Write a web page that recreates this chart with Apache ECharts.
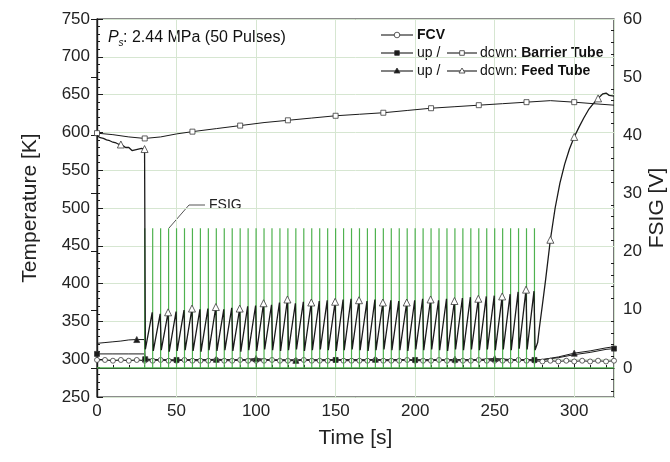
<!DOCTYPE html>
<html>
<head>
<meta charset="utf-8">
<title>FSIG pulses</title>
<script src="https://cdn.jsdelivr.net/npm/echarts@6/dist/echarts.min.js"></script>
<style>
html,body{margin:0;padding:0;background:#fff;}
#container{width:670px;height:462px;}
</style>
</head>
<body>
<div id="container"></div>
<script>
var FONT = '"Liberation Sans", Arial, sans-serif';
var INK = '#1b1b1b';

// FSIG pulses, right axis [V]
var pulseTimes = [30,35,40,45,50,55,60,65,70,75,80,85,90,95,100,105,110,115,120,125,
                  130,135,140,145,150,155,160,165,170,175,180,185,190,195,200,205,210,215,220,225,
                  230,235,240,245,250,255,260,265,270,275];
var pulseTop = 24;

// FCV (open circles)
var fcvTime = [0,5,10,15,20,25,30,35,40,45,50,55,60,65,70,75,80,85,90,95,100,105,110,115,120,125,130,135,140,145,
               150,155,160,165,170,175,180,185,190,195,200,205,210,215,220,225,230,235,240,245,250,255,260,265,270,275,
               280,285,290,295,300,305,310,315,320,325];
var fcvTemp = [299,299,298,299,298,299,298,298,299,298, 298,299,298,298,298,299,298,298,299,298,
               298,298,299,298,298,298,299,298,298,298, 299,298,298,298,298,299,298,298,298,299,
               298,298,298,299,298,298,298,298,299,298, 298,298,298,299,298,298,297,298,297,298,
               297,298,297,298,297,298];

// Barrier tube up (filled squares)
var barrierUpTime = [0,10,20,29.8,30.3,40,50,60,70,80,90,100,110,120,130,140,150,160,170,180,190,200,210,220,230,240,250,260,270,275,280,290,300,310,320,325];
var barrierUpTemp = [307,307,307,307,300,299.5,299,299.5,299,299.5,299,299.5,299,299,299.5,299,299,299.5,299,299,299.5,299,299.5,299,299.5,299,299.5,299,299.5,299,299.5,302,306,309,313,314];
var barrierUpMarks = [0,30.3,50,150,200,275,325];

// Feed tube up (filled triangles)
var feedUpTime = [0,5,10,15,20,25,29.8,30.3,40,50,60,70,75,80,90,100,110,120,125,130,140,150,160,170,175,180,190,200,210,220,225,230,240,250,260,270,280,290,300,310,320,325];
var feedUpTemp = [321,322,323,324,325.5,326,326,300,299,298.5,299,299.5,300,299.5,299,301,299,299,298.5,299,299,299.5,299,299,300,299,299.5,299,299,299,300,299,299.5,301,299.5,299,299.5,303,308,311,315,316.5];
var feedUpMarks = [25,75,100,125,175,225,250,300];

// Barrier tube down (open squares)
var barrierDownTime = [0,10,20,30,40,50,60,75,90,105,120,135,150,165,180,195,210,225,240,255,270,285,300,312,325];
var barrierDownTemp = [599,597,594,592,594,598,601,605,609,613,616,619,622,624,626,629,632,634,636,638,640,642,640,638,636];
var barrierDownMarks = [0,30,60,90,120,150,180,210,240,270,300];

// Feed tube down (open triangles): before pulses, sawtooth per pulse, recovery
var feedDownPreTime = [0,1,2,3,4,5,6,7,8,9,10,11,12,13,14,15,16,17,18,19,20,21,22,23,24,25,26,27,28,29,29.9];
var feedDownPreTemp = [596,594,593,592,592,591,590,590,589,588,587,586,586,585,584,584,583,581,580,582,580,578,576,578,577,575,578,577,579,578,578];
var feedDownPreMarks = [15,29.9];
var sawTrough = [313,311,312,310,311,312,311,310,312,311, 312,311,310,312,311,313,312,311,312,313,
                 311,312,313,312,311,312,313,312,311,312, 313,312,312,311,313,312,313,312,311,313,
                 312,313,312,313,312,313,312,314,313,312];
var sawPeak = [362,360,362,363,365,367,366,367,369,366,368,367,370,371,374,372,375,379,374,376,
               375,377,378,376,379,380,378,377,379,375,378,377,375,378,380,379,378,380,377,381,
               382,380,383,384,383,386,389,392,390];
var sawPeakMarks = [45,60,75,90,105,120,135,150,165,180,195,210,225,240,255,270];
var feedDownPostTime = [277,278,280,282,285,288,291,294,297,300,303,306,309,312,315,318,320,322,325];
var feedDownPostTemp = [322,340,372,405,458,500,533,558,578,594,607,619,630,638,645,651,652,649,648];
var feedDownPostMarks = [285,300,315];

function items(ts, vs, marks) {
    return ts.map(function (t, i) {
        var it = {value: [t, vs[i]]};
        if (marks.indexOf(t) < 0) it.symbol = 'none';
        return it;
    });
}

// FSIG signal: 0 V baseline with a spike at every pulse
var fsigData = [[0, 0]];
pulseTimes.forEach(function (t) {
    fsigData.push([t, 0], [t, pulseTop], [t, 0]);
});
fsigData.push([325, 0]);

// feed tube down: drop at each pulse, then rise until the next pulse
var feedDownData = items(feedDownPreTime, feedDownPreTemp, feedDownPreMarks);
pulseTimes.forEach(function (t, k) {
    feedDownData.push({value: [t + 0.4, sawTrough[k]], symbol: 'none'});
    if (k < sawPeak.length) {
        var next = pulseTimes[k + 1];
        var p = {value: [next - 0.3, sawPeak[k]]};
        if (sawPeakMarks.indexOf(next) < 0) p.symbol = 'none';
        feedDownData.push(p);
    }
});
feedDownData = feedDownData.concat(items(feedDownPostTime, feedDownPostTemp, feedDownPostMarks));

var minorX = [10,20,30,40,60,70,80,90,110,120,130,140,160,170,180,190,210,220,230,240,260,270,280,290,310,320];
var minorV = [-4,-2,2,4,6,8,12,14,16,18,22,24,26,28,32,34,36,38,42,44,46,48,52,54,56,58];
var majorV = [0,10,20,30,40,50,60];

var axisLine = {show: true, lineStyle: {color: INK, width: 1.2}};
var tickStyle = {color: INK, width: 1};
var labelStyle = {fontSize: 17, color: '#222', fontFamily: FONT};
var nameStyle = {fontSize: 21, color: '#222', fontFamily: FONT};
var gridColor = '#d6e6d1';

// open markers are white-filled plain symbols so the outline stays thin
function lineSeries(name, data, symbol, size, open, z, lw) {
    return {
        name: name, type: 'line', data: data, z: z || 2,
        symbol: symbol, symbolSize: size, showSymbol: true, showAllSymbol: true,
        lineStyle: {color: INK, width: lw || 1},
        itemStyle: {color: open ? '#fff' : INK, borderColor: '#3a3a3a', borderWidth: 0.8}
    };
}

// legend pieces
function seg(x1, x2, y) {
    return {type: 'line', shape: {x1: x1, y1: y, x2: x2, y2: y}, style: {stroke: INK, lineWidth: 1.1}};
}
function txt(x, y, s, extra) {
    var st = {text: s, fontSize: 14, fontFamily: FONT, fill: '#111', align: 'left', verticalAlign: 'middle'};
    for (var k in extra) st[k] = extra[k];
    return {type: 'text', x: x, y: y, style: st};
}
function tri(x, y, fill) {
    return {type: 'polygon', shape: {points: [[x, y - 3], [x + 3, y + 2], [x - 3, y + 2]]},
            style: {fill: fill, stroke: '#333', lineWidth: 0.8}};
}
function sq(x, y, fill) {
    return {type: 'rect', shape: {x: x - 2.3, y: y - 2.3, width: 4.6, height: 4.6},
            style: {fill: fill, stroke: '#333', lineWidth: 0.8}};
}
var boldRich = {b: {fontWeight: 'bold', fontSize: 14, fontFamily: FONT, fill: '#111'}};

var graphics = [
    // P_s annotation
    txt(108, 38, 'P', {fontSize: 16, fontStyle: 'italic'}),
    txt(118.5, 43, 's', {fontSize: 10, fontStyle: 'italic'}),
    txt(123, 38, ': 2.44 MPa (50 Pulses)', {fontSize: 16}),
    // FSIG label with leader
    {type: 'polyline', shape: {points: [[169, 228], [189, 205], [205, 205]]}, style: {stroke: '#555', lineWidth: 1, fill: null}},
    txt(209, 205, 'FSIG', {fontSize: 14, fill: '#222'}),
    // legend
    seg(381, 413, 35),
    {type: 'circle', shape: {cx: 397, cy: 35, r: 2.8}, style: {fill: '#fff', stroke: '#333', lineWidth: 0.8}},
    txt(417, 35, 'FCV', {fontWeight: 'bold'}),
    seg(381, 413, 53), sq(397, 53, INK),
    txt(417, 53, 'up /'),
    seg(447, 477, 53), sq(462, 53, '#fff'),
    txt(480, 53, 'down: {b|Barrier Tube}', {rich: boldRich}),
    seg(381, 413, 71), tri(397, 71, INK),
    txt(417, 71, 'up /'),
    seg(447, 477, 71), tri(462, 71, '#fff'),
    txt(480, 71, 'down: {b|Feed Tube}', {rich: boldRich})
];

var option = {
    animation: false,
    backgroundColor: '#fff',
    grid: {left: 97, right: 56, top: 19, bottom: 65, show: true, borderColor: INK, borderWidth: 1.2,
           outerBoundsMode: 'none', containLabel: false},
    xAxis: [{
        type: 'value', min: 0, max: 325, interval: 50,
        name: 'Time [s]', nameLocation: 'middle', nameGap: 31, nameTextStyle: nameStyle,
        axisLine: axisLine,
        axisTick: {inside: true, length: 6, lineStyle: tickStyle},
        axisLabel: Object.assign({margin: 6, showMaxLabel: false}, labelStyle),
        splitLine: {show: true, lineStyle: {color: gridColor, width: 1}}
    }, {
        type: 'value', min: 0, max: 325, position: 'bottom',
        axisLine: {show: false}, axisLabel: {show: false}, splitLine: {show: false},
        axisTick: {show: true, inside: true, length: 3, customValues: minorX, lineStyle: tickStyle}
    }],
    yAxis: [{
        type: 'value', min: 250, max: 750, interval: 50, position: 'left',
        name: 'Temperature [K]', nameLocation: 'middle', nameGap: 56, nameRotate: 90, nameTextStyle: nameStyle,
        nameMoveOverlap: false,
        axisLine: axisLine,
        axisTick: {inside: true, length: 6, lineStyle: tickStyle},
        minorTick: {show: true, splitNumber: 5, length: 3, lineStyle: tickStyle},
        axisLabel: Object.assign({margin: 7}, labelStyle),
        splitLine: {show: true, lineStyle: {color: gridColor, width: 1}}
    }, {
        type: 'value', min: -5, max: 60, position: 'right',
        name: 'FSIG [V]', nameLocation: 'middle', nameGap: 33, nameRotate: 90, nameTextStyle: nameStyle,
        nameMoveOverlap: false,
        axisLine: axisLine,
        axisTick: {inside: true, length: 6, customValues: majorV, lineStyle: tickStyle},
        axisLabel: Object.assign({margin: 9, customValues: majorV}, labelStyle),
        splitLine: {show: false}
    }, {
        type: 'value', min: -5, max: 60, position: 'right',
        axisLine: {show: false}, axisLabel: {show: false}, splitLine: {show: false},
        axisTick: {show: true, inside: true, length: 3, customValues: minorV, lineStyle: tickStyle}
    }],
    graphic: graphics,
    series: [
        {
            name: 'FSIG', type: 'line', yAxisIndex: 1, data: fsigData, z: 3,
            symbol: 'none', lineStyle: {color: '#4fb24f', width: 1.2}
        },
        lineSeries('FCV', items(fcvTime, fcvTemp, fcvTime), 'circle', 5, true),
        lineSeries('Barrier up', items(barrierUpTime, barrierUpTemp, barrierUpMarks), 'rect', 5, false),
        lineSeries('Feed up', items(feedUpTime, feedUpTemp, feedUpMarks), 'triangle', 6, false),
        lineSeries('Barrier down', items(barrierDownTime, barrierDownTemp, barrierDownMarks), 'rect', 5, true),
        lineSeries('Feed down', feedDownData, 'triangle', 7, true, 4, 1.3)
    ]
};

var myChart = echarts.init(document.getElementById('container'));
myChart.setOption(option, true);
</script>
</body>
</html>
